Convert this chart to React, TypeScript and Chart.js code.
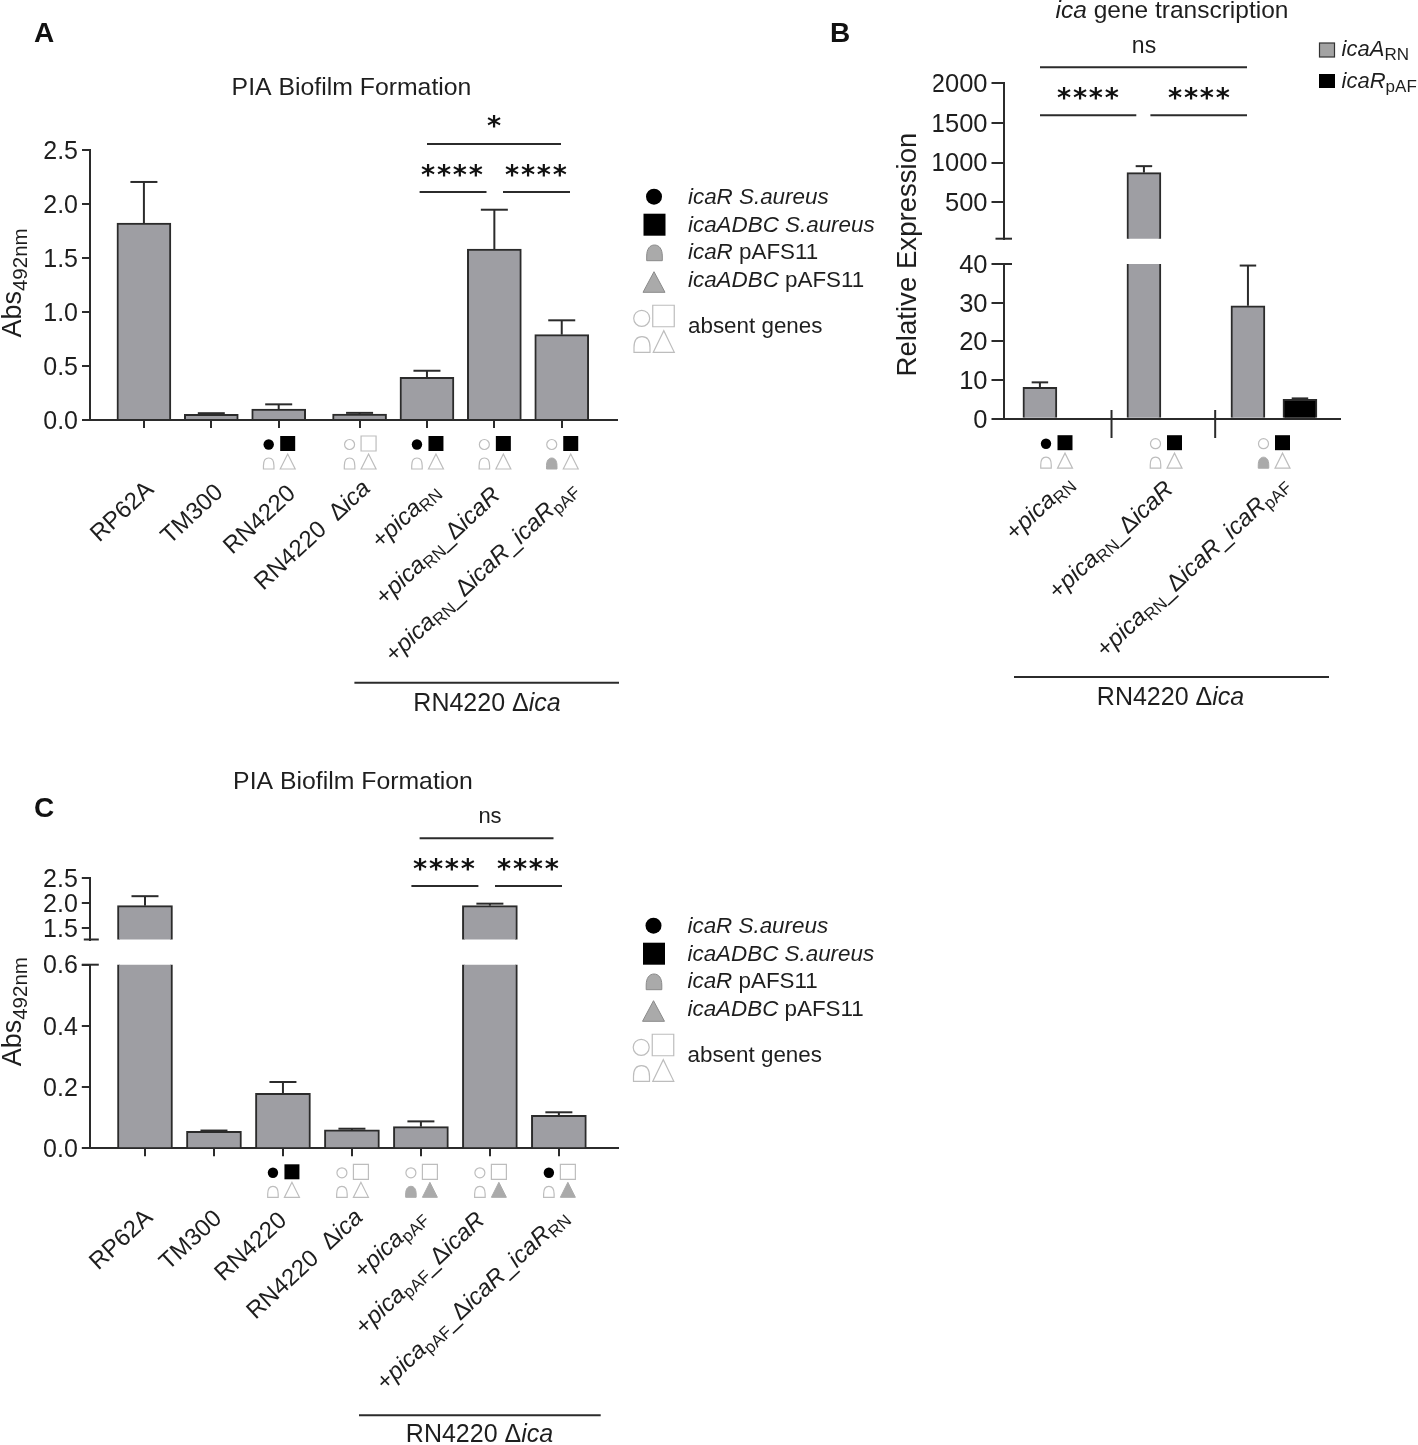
import { useEffect, useRef } from 'react';
import { Chart, registerables } from 'chart.js';

Chart.register(...registerables);

// panel A
const labelsA = ['RP62A', 'TM300', 'RN4220', 'RN4220  Δ*ica*', '+*pica*~RN~', '+*pica*~RN~_Δ*icaR*', '+*pica*~RN~_Δ*icaR*_*icaR*~pAF~'];
const valuesA = [1.824, 0.052, 0.1, 0.055, 0.395, 1.583, 0.79];
const errTopA = [2.204, 0.063, 0.145, 0.066, 0.456, 1.947, 0.923];
const marksA = ['', '', 'kkoo', 'oooo', 'kkoo', 'okoo', 'okgo'];
const yTicksA = [0, 0.5, 1, 1.5, 2, 2.5];

// panel B
const labelsB = ['+*pica*~RN~', '+*pica*~RN~_Δ*icaR*', '+*pica*~RN~_Δ*icaR*_*icaR*~pAF~'];
const icaA = [8.1, 874, 29.2];
const icaAErrTop = [9.4, 955, 39.6];
const icaR = [5.0];
const icaRErrTop = [5.25];
const marksB = ['kkoo', 'okoo', 'okgo'];
const yTicksBLow = [0, 10, 20, 30, 40];
const yTicksBHigh = [500, 1000, 1500, 2000];

// panel C
const labelsC = ['RP62A', 'TM300', 'RN4220', 'RN4220  Δ*ica*', '+*pica*~pAF~', '+*pica*~pAF~_Δ*icaR*', '+*pica*~pAF~_Δ*icaR*_*icaR*~RN~'];
const valuesC = [1.945, 0.0555, 0.18, 0.06, 0.0707, 1.945, 0.108];
const errTopC = [2.135, 0.058, 0.2166, 0.064, 0.088, 1.985, 0.1177];
const marksC = ['', '', 'kkoo', 'oooo', 'oogg', 'ooog', 'koog'];
const yTicksCLow = [0, 0.2, 0.4, 0.6];
const yTicksCHigh = [1.5, 2, 2.5];

// slot of each bar on the x scale (there is a small gap after RN4220 in A)
const slotsA = [0, 1, 2, 3.2, 4.2, 5.2, 6.2];
const slotsC = [0, 1, 2, 3, 4, 5, 6];
const slotsBA = [0, 2, 4];
const slotsBR = [5];

// baseline end of each rotated label: shift from its tick, and page y
const anchorsA = [[11, 491], [13, 494], [18, 495], [12, 490], [14, 493], [7, 497], [17, 491]];
const anchorsC = [[9, 1219], [9, 1220], [5, 1222], [12, 1219], [7, 1219], [-4, 1222], [11, 1219]];
const anchorsB = [[1075, 485], [1174.5, 491], [1290, 486]];
const markCentersB = [1056, 1165.5, 1273.5];

const W = 1418;
const H = 1445;
const FONT = '"Liberation Sans"';
const INK = '#1e1e1e';
const BAR = '#9e9ea3';

type Ctx = CanvasRenderingContext2D;

// tiny markup: *italic* and ~subscript~
function parseRuns(s: string) {
  const runs: { t: string; i: boolean; s: boolean }[] = [];
  let i = false;
  let sub = false;
  let cur = '';
  const flush = () => {
    if (cur) runs.push({ t: cur, i, s: sub });
    cur = '';
  };
  for (const c of s) {
    if (c === '*') { flush(); i = !i; }
    else if (c === '~') { flush(); sub = !sub; }
    else cur += c;
  }
  flush();
  return runs;
}

function rich(ctx: Ctx, s: string, x: number, y: number, size: number, opt: { angle?: number; align?: string; subSize?: number; subDrop?: number } = {}) {
  const runs = parseRuns(s);
  const subSize = opt.subSize ?? size * 0.72;
  const subDrop = opt.subDrop ?? size * 0.2;
  const fontOf = (r: { i: boolean; s: boolean }) => `${r.i ? 'italic ' : ''}${r.s ? subSize : size}px ${FONT}`;
  ctx.save();
  ctx.fillStyle = INK;
  ctx.textAlign = 'left';
  ctx.textBaseline = 'alphabetic';
  let total = 0;
  for (const r of runs) {
    ctx.font = fontOf(r);
    total += ctx.measureText(r.t).width;
  }
  ctx.translate(x, y);
  ctx.rotate(((opt.angle ?? 0) * Math.PI) / 180);
  let px = opt.align === 'right' ? -total : opt.align === 'center' ? -total / 2 : 0;
  for (const r of runs) {
    ctx.font = fontOf(r);
    ctx.fillText(r.t, px, r.s ? subDrop : 0);
    px += ctx.measureText(r.t).width;
  }
  ctx.restore();
}

function line(ctx: Ctx, x1: number, y1: number, x2: number, y2: number, width = 2, color = '#2b2b2b') {
  ctx.save();
  ctx.strokeStyle = color;
  ctx.lineWidth = width;
  ctx.beginPath();
  ctx.moveTo(x1, y1);
  ctx.lineTo(x2, y2);
  ctx.stroke();
  ctx.restore();
}

function stars(ctx: Ctx, s: string, x: number, cy: number) {
  ctx.save();
  ctx.fillStyle = '#111';
  ctx.font = 'bold 27px "DejaVu Sans"';
  (ctx as any).letterSpacing = '1.8px';
  ctx.textAlign = 'left';
  ctx.textBaseline = 'alphabetic';
  ctx.fillText(s, x, cy + 12.5);
  ctx.restore();
}

function letter(ctx: Ctx, s: string, x: number, y: number) {
  ctx.save();
  ctx.fillStyle = '#111';
  ctx.font = `bold 28px ${FONT}`;
  ctx.textBaseline = 'alphabetic';
  ctx.fillText(s, x, y);
  ctx.restore();
}

function paint(ctx: Ctx, state: string, path: () => void, stroke?: string, lw = 1.2) {
  ctx.save();
  path();
  if (state === 'k') {
    ctx.fillStyle = '#000';
    ctx.fill();
  } else if (state === 'g') {
    ctx.fillStyle = '#aaaaaa';
    ctx.fill();
    ctx.strokeStyle = stroke ?? '#aaaaaa';
    ctx.lineWidth = 1;
    ctx.stroke();
  } else {
    ctx.strokeStyle = stroke ?? '#bdbdbd';
    ctx.lineWidth = lw;
    ctx.stroke();
  }
  ctx.restore();
}

const circle = (ctx: Ctx, s: string, cx: number, cy: number, r: number) =>
  paint(ctx, s, () => { ctx.beginPath(); ctx.arc(cx, cy, r, 0, Math.PI * 2); });
const square = (ctx: Ctx, s: string, cx: number, cy: number, w: number) =>
  paint(ctx, s, () => { ctx.beginPath(); ctx.rect(cx - w / 2, cy - w / 2, w, w); });
const dome = (ctx: Ctx, s: string, cx: number, b: number, w: number, h: number, stroke?: string) =>
  paint(ctx, s, () => {
    ctx.beginPath();
    ctx.moveTo(cx - w / 2, b);
    ctx.lineTo(cx - w / 2, b - h * 0.3);
    ctx.bezierCurveTo(cx - w / 2, b - h * 0.75, cx - w * 0.3, b - h, cx, b - h);
    ctx.bezierCurveTo(cx + w * 0.3, b - h, cx + w / 2, b - h * 0.75, cx + w / 2, b - h * 0.3);
    ctx.lineTo(cx + w / 2, b);
    ctx.closePath();
  }, stroke);
const tri = (ctx: Ctx, s: string, cx: number, b: number, w: number, h: number, stroke?: string) =>
  paint(ctx, s, () => {
    ctx.beginPath();
    ctx.moveTo(cx - w / 2, b);
    ctx.lineTo(cx, b - h);
    ctx.lineTo(cx + w / 2, b);
    ctx.closePath();
  }, stroke);

// the four little gene symbols below a bar
function geneMarks(ctx: Ctx, m: string, x: number, axisY: number) {
  if (!m) return;
  circle(ctx, m[0], x - 10, axisY + 24.5, m[0] === 'o' ? 5 : 5.2);
  square(ctx, m[1], x + 9, axisY + 23.5, 15);
  dome(ctx, m[2], x - 10, axisY + 49, 10.5, 11);
  tri(ctx, m[3], x + 9, axisY + 49, 15, 15);
}

function geneLegend(ctx: Ctx, dx: number, dy: number) {
  circle(ctx, 'k', 654 + dx, 196.7 + dy, 8);
  square(ctx, 'k', 654.5 + dx, 224.7 + dy, 22);
  dome(ctx, 'g', 654.5 + dx, 260.7 + dy, 15.6, 15.7, '#8a8a8a');
  tri(ctx, 'g', 654 + dx, 292.3 + dy, 22, 20.6, '#8a8a8a');
  circle(ctx, 'o', 641.7 + dx, 318.3 + dy, 8);
  square(ctx, 'o', 663.5 + dx, 316 + dy, 21.5);
  dome(ctx, 'o', 642 + dx, 352.3 + dy, 16, 15.6);
  tri(ctx, 'o', 663.8 + dx, 352.3 + dy, 21, 21.6);
  const tx = 688 + dx;
  rich(ctx, '*icaR S.aureus*', tx, 204.3 + dy, 22.4);
  rich(ctx, '*icaADBC S.aureus*', tx, 232.3 + dy, 22.4);
  rich(ctx, '*icaR* pAFS11', tx, 258.7 + dy, 22.4);
  rich(ctx, '*icaADBC* pAFS11', tx, 286.7 + dy, 22.4);
  rich(ctx, 'absent genes', tx, 333.3 + dy, 22.4);
}

interface Series {
  slots: number[];
  values: number[];
  tops: number[];
  fill: string;
  barWidth: number;
  capWidth: number;
}

interface PanelOpts {
  area: { left: number; top: number; right: number; bottom: number };
  xRange: [number, number];
  yRange: [number, number];
  yTicks: number[];
  yFormat: (v: number) => string;
  tickLength: number;
  tickSize: number;
  showX: boolean;
  xTicks?: number[];
  series: Series[];
  draw?: (ctx: Ctx, chart: Chart) => void;
}

// canvas 'middle' sits a little high for digits, nudge the tick labels down
function nudgeLabels(s: any, dy: number) {
  if (s._nudged) return;
  s._nudged = true;
  const orig = s._computeLabelItems;
  s._computeLabelItems = function (area: any) {
    const items = orig.call(this, area);
    items.forEach((it: any) => { it.options.translation[1] += dy; });
    return items;
  };
}

function panel(canvas: HTMLCanvasElement, o: PanelOpts) {
  const yAxisWidth = 70;
  const xAxisHeight = 12;
  const [yMin, yMax] = o.yRange;
  const visible = (v: number) => v > yMin;
  return new Chart(canvas, {
    type: 'bar',
    data: {
      datasets: o.series.map((s) => ({
        data: s.slots.map((x, i) => ({ x, y: visible(s.values[i]) ? s.values[i] : null })) as any,
        backgroundColor: s.fill,
        borderColor: '#2b2b2b',
        borderWidth: 2,
        barThickness: s.barWidth,
        grouped: false,
        clip: 0,
      })),
    },
    options: {
      responsive: false,
      animation: false,
      devicePixelRatio: 1,
      layout: {
        padding: {
          left: o.area.left - yAxisWidth,
          top: o.area.top,
          right: W - o.area.right,
          bottom: H - o.area.bottom - (o.showX ? xAxisHeight : 0),
        },
      },
      plugins: { legend: { display: false }, title: { display: false }, tooltip: { enabled: false } },
      scales: {
        x: {
          type: 'linear',
          display: o.showX,
          offset: false,
          min: o.xRange[0],
          max: o.xRange[1],
          afterFit: (s: any) => { if (o.showX) s.height = xAxisHeight; },
          afterBuildTicks: (s: any) => { s.ticks = (o.xTicks ?? []).map((value) => ({ value })); },
          ticks: { display: false },
          grid: { offset: false, drawOnChartArea: false, tickLength: 8, color: '#2b2b2b', lineWidth: 2, display: !!o.xTicks },
          border: { color: '#2b2b2b', width: 2 },
        },
        y: {
          type: 'linear',
          min: yMin,
          max: yMax,
          afterFit: (s: any) => { s.width = yAxisWidth; },
          afterBuildTicks: (s: any) => {
            s.ticks = o.yTicks.map((value) => ({ value }));
            nudgeLabels(s, 1.8);
          },
          ticks: {
            autoSkip: false,
            padding: 4,
            color: INK,
            font: { family: 'Liberation Sans', size: o.tickSize },
            callback: (v: any) => o.yFormat(Number(v)),
          },
          grid: { drawOnChartArea: false, tickLength: o.tickLength, color: '#2b2b2b', lineWidth: 2 },
          border: { color: '#2b2b2b', width: 2 },
        },
      },
    },
    plugins: [
      {
        id: 'errorBars',
        beforeDatasetsDraw(chart: Chart) {
          const { ctx, scales } = chart;
          for (const s of o.series) {
            s.slots.forEach((slot, i) => {
              if (s.tops[i] > yMax || s.tops[i] < yMin) return;
              const x = scales.x.getPixelForValue(slot);
              const top = scales.y.getPixelForValue(s.tops[i]);
              const base = scales.y.getPixelForValue(Math.max(s.values[i], yMin));
              line(ctx, x, base, x, top, 2);
              line(ctx, x - s.capWidth / 2, top, x + s.capWidth / 2, top, 2);
            });
          }
        },
      },
      {
        id: 'panelText',
        afterDraw(chart: Chart) {
          o.draw?.(chart.ctx, chart);
        },
      },
    ] as any,
  });
}

const fmt1 = (v: number) => v.toFixed(1);
const fmt0 = (v: number) => String(v);

function drawA(ctx: Ctx, chart: Chart) {
  const x = chart.scales.x;
  const axisY = chart.scales.y.getPixelForValue(0);
  rich(ctx, 'PIA Biofilm Formation', 351.5, 95, 24.8, { align: 'center' });
  letter(ctx, 'A', 34, 42);
  rich(ctx, 'Abs~492nm~', 20.5, 283, 27, { angle: -90, align: 'center', subSize: 20.5, subDrop: 6 });

  stars(ctx, '*', 487, 122);
  line(ctx, 427, 144, 561, 144);
  stars(ctx, '****', 421, 171);
  stars(ctx, '****', 505, 171);
  line(ctx, 419.6, 192, 486.5, 192);
  line(ctx, 503, 192, 570, 192);

  slotsA.forEach((slot, i) => {
    const px = x.getPixelForValue(slot);
    geneMarks(ctx, marksA[i], px, axisY);
    rich(ctx, labelsA[i], px + anchorsA[i][0], anchorsA[i][1], 24, { angle: -43, align: 'right', subSize: 17, subDrop: 4 });
  });
  line(ctx, 354.4, 682.7, 619, 682.7);
  rich(ctx, 'RN4220 Δ*ica*', 487, 710.7, 25, { align: 'center' });
  geneLegend(ctx, 0, 0);
}

function drawBLow(ctx: Ctx, chart: Chart) {
  const y = chart.scales.y;
  const axisY = y.getPixelForValue(0);
  const x = chart.scales.x;
  const left = chart.chartArea.left;
  // break tick at 40 runs through the axis
  line(ctx, left - 8, y.getPixelForValue(40), left + 8.5, y.getPixelForValue(40));
  line(ctx, x.getPixelForValue(1.377), 410, x.getPixelForValue(1.377), 438);
  line(ctx, x.getPixelForValue(3.37), 410, x.getPixelForValue(3.37), 438);

  rich(ctx, '*ica* gene transcription', 1172, 17.5, 24.5, { align: 'center' });
  letter(ctx, 'B', 830, 42);
  rich(ctx, 'Relative Expression', 915.7, 254.5, 27.6, { angle: -90, align: 'center' });

  rich(ctx, 'ns', 1144, 52.7, 23, { align: 'center' });
  line(ctx, 1040, 67.3, 1247, 67.3);
  stars(ctx, '****', 1057, 94.3);
  stars(ctx, '****', 1168, 94.3);
  line(ctx, 1040, 115.3, 1136.3, 115.3);
  line(ctx, 1150.4, 115.3, 1247, 115.3);

  ctx.save();
  ctx.fillStyle = '#a3a3a3';
  ctx.strokeStyle = '#333';
  ctx.lineWidth = 1.2;
  ctx.fillRect(1319.5, 43, 15, 14);
  ctx.strokeRect(1319.5, 43, 15, 14);
  ctx.fillStyle = '#000';
  ctx.fillRect(1319, 74, 16, 14);
  ctx.restore();
  rich(ctx, '*icaA*~RN~', 1341.6, 56, 22, { subSize: 17, subDrop: 4 });
  rich(ctx, '*icaR*~pAF~', 1341.6, 87.7, 22, { subSize: 17, subDrop: 4 });

  marksB.forEach((m, i) => {
    geneMarks(ctx, m, markCentersB[i], axisY + 0.5);
    rich(ctx, labelsB[i], anchorsB[i][0], anchorsB[i][1], 24, { angle: -43, align: 'right', subSize: 17, subDrop: 4 });
  });
  line(ctx, 1014, 677, 1329, 677);
  rich(ctx, 'RN4220 Δ*ica*', 1170.5, 705, 25, { align: 'center' });
}

function drawBHigh(ctx: Ctx, chart: Chart) {
  const left = chart.chartArea.left;
  const b = chart.chartArea.bottom;
  line(ctx, left - 8, b, left + 8.5, b);
}

function drawCLow(ctx: Ctx, chart: Chart) {
  const x = chart.scales.x;
  const y = chart.scales.y;
  const axisY = y.getPixelForValue(0);
  const left = chart.chartArea.left;
  line(ctx, left - 8, y.getPixelForValue(0.6), left + 9, y.getPixelForValue(0.6));

  rich(ctx, 'PIA Biofilm Formation', 353, 789, 24.8, { align: 'center' });
  letter(ctx, 'C', 34, 817);
  rich(ctx, 'Abs~492nm~', 20.5, 1011.7, 27, { angle: -90, align: 'center', subSize: 20.5, subDrop: 6 });

  rich(ctx, 'ns', 490, 822.7, 22, { align: 'center' });
  line(ctx, 419.6, 838.3, 553.5, 838.3);
  stars(ctx, '****', 413, 865);
  stars(ctx, '****', 497, 865);
  line(ctx, 411.4, 886, 478.4, 886);
  line(ctx, 495, 886, 562, 886);

  slotsC.forEach((slot, i) => {
    const px = x.getPixelForValue(slot);
    geneMarks(ctx, marksC[i], px, axisY);
    rich(ctx, labelsC[i], px + anchorsC[i][0], anchorsC[i][1], 24, { angle: -43, align: 'right', subSize: 17, subDrop: 4 });
  });
  line(ctx, 359, 1415.3, 600.7, 1415.3);
  rich(ctx, 'RN4220 Δ*ica*', 479.5, 1442, 25, { align: 'center' });
  geneLegend(ctx, -0.5, 729);
}

function drawCHigh(ctx: Ctx, chart: Chart) {
  const left = chart.chartArea.left;
  const b = chart.chartArea.bottom;
  line(ctx, left - 6, b, left + 9, b);
}

const gray = (slots: number[], values: number[], tops: number[], barWidth: number, capWidth: number): Series => ({
  slots, values, tops, fill: BAR, barWidth, capWidth,
});

export default function App() {
  const refs = useRef<(HTMLCanvasElement | null)[]>([]);

  useEffect(() => {
    document.body.style.margin = '0';
    const [a, bHigh, bLow, cHigh, cLow] = refs.current as HTMLCanvasElement[];
    const charts = [
      panel(a, {
        area: { left: 90, top: 150, right: 617, bottom: 420 },
        xRange: [-0.8, 7.02],
        yRange: [0, 2.5],
        yTicks: yTicksA,
        yFormat: fmt1,
        tickLength: 8,
        tickSize: 25,
        showX: true,
        xTicks: slotsA,
        series: [gray(slotsA, valuesA, errTopA, 54, 27)],
        draw: drawA,
      }),
      panel(bHigh, {
        area: { left: 1003.5, top: 83.3, right: 1340, bottom: 238.7 },
        xRange: [-0.7, 5.77],
        yRange: [40, 2000],
        yTicks: yTicksBHigh,
        yFormat: fmt0,
        tickLength: 12,
        tickSize: 25.5,
        showX: false,
        series: [gray(slotsBA, icaA, icaAErrTop, 34, 16.5)],
        draw: drawBHigh,
      }),
      panel(bLow, {
        area: { left: 1003.5, top: 264, right: 1340, bottom: 418.7 },
        xRange: [-0.7, 5.77],
        yRange: [0, 40],
        yTicks: yTicksBLow,
        yFormat: fmt0,
        tickLength: 12,
        tickSize: 25.5,
        showX: true,
        series: [
          gray(slotsBA, icaA, icaAErrTop, 34, 16.5),
          { slots: slotsBR, values: icaR, tops: icaRErrTop, fill: '#000000', barWidth: 34, capWidth: 16.5 },
        ],
        draw: drawBLow,
      }),
      panel(cHigh, {
        area: { left: 89.8, top: 878, right: 617.5, bottom: 939.5 },
        xRange: [-0.8, 6.85],
        yRange: [1.266, 2.5],
        yTicks: yTicksCHigh,
        yFormat: fmt1,
        tickLength: 8,
        tickSize: 25,
        showX: false,
        series: [gray(slotsC, valuesC, errTopC, 55, 27)],
        draw: drawCHigh,
      }),
      panel(cLow, {
        area: { left: 89.8, top: 964.7, right: 617.5, bottom: 1148.3 },
        xRange: [-0.8, 6.85],
        yRange: [0, 0.6],
        yTicks: yTicksCLow,
        yFormat: fmt1,
        tickLength: 8,
        tickSize: 25,
        showX: true,
        xTicks: slotsC,
        series: [gray(slotsC, valuesC, errTopC, 55, 27)],
        draw: drawCLow,
      }),
    ];
    return () => charts.forEach((c) => c.destroy());
  }, []);

  return (
    <div style={{ position: 'absolute', left: 0, top: 0, width: W, height: H, background: '#fff', overflow: 'hidden' }}>
      {[0, 1, 2, 3, 4].map((i) => (
        <canvas
          key={i}
          ref={(el) => { refs.current[i] = el; }}
          width={W}
          height={H}
          style={{ position: 'absolute', left: 0, top: 0, width: W, height: H }}
        />
      ))}
    </div>
  );
}
